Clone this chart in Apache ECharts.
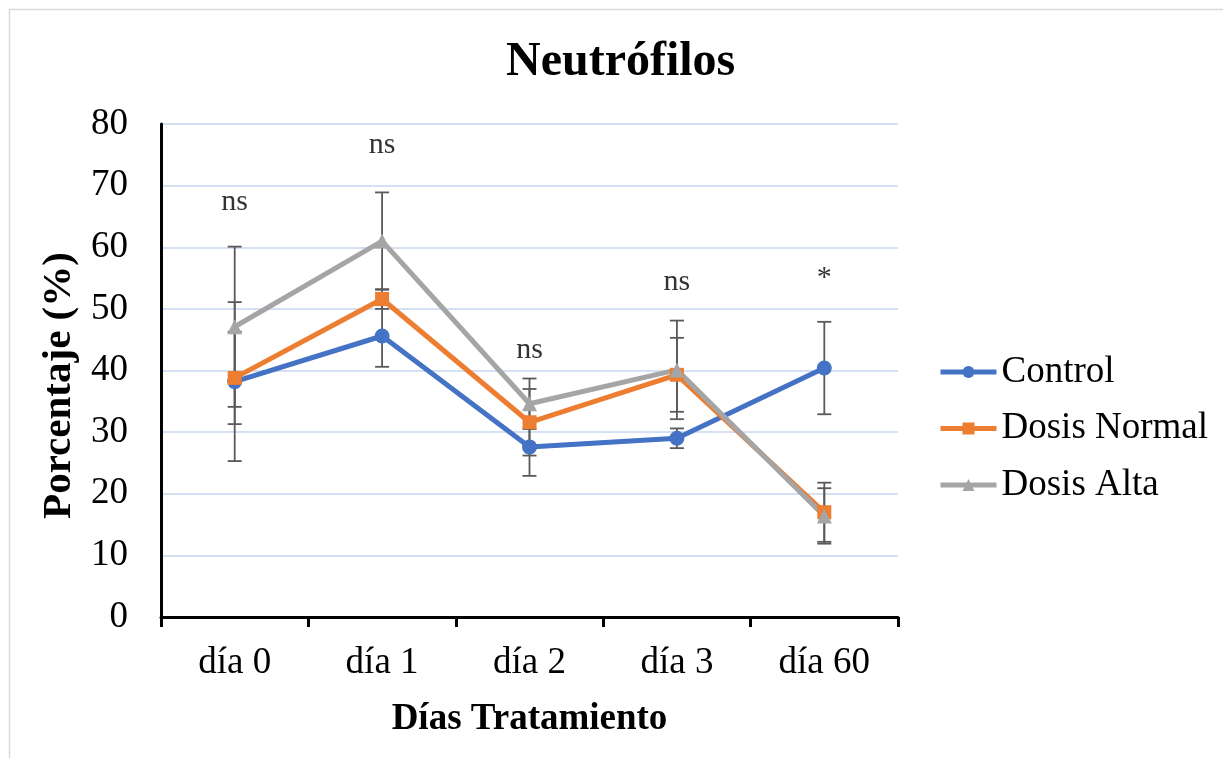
<!DOCTYPE html>
<html><head><meta charset="utf-8">
<script src="https://cdn.jsdelivr.net/npm/echarts@6/dist/echarts.min.js"></script>
<style>html,body{margin:0;padding:0;background:#fff}#c{width:1223px;height:758px}</style>
</head><body><div id="c"></div>
<script>
const categories = ['día 0', 'día 1', 'día 2', 'día 3', 'día 60'];
const controlVals = [38.2, 45.6, 27.6, 29.0, 40.4];
const normalVals = [38.8, 51.6, 31.6, 39.3, 17.0];
const altaVals = [47.1, 61.0, 34.6, 40.1, 16.4];
const controlErr = [12.9, 5.0, 4.7, 1.6, 7.5];
const normalErr = [7.5, 1.6, 5.4, 6.0, 4.8];
const altaErr = [13.0, 7.9, 4.1, 8.0, 4.5];
const sigLabels = ['ns', 'ns', 'ns', 'ns', '*'];
const sigY = [67.4, 76.6, 43.3, 54.4, 55.0];
const yTicks = [0, 10, 20, 30, 40, 50, 60, 70, 80];

const FONT = '"Liberation Serif", "Times New Roman", serif';
const colors = {Control: '#4472C4', 'Dosis Normal': '#ED7D31', 'Dosis Alta': '#A5A5A5'};

function errData(vals, errs) {
  return vals.map((v, i) => [i, v - errs[i], v + errs[i]]);
}
function errSeries(vals, errs) {
  return {
    type: 'custom', z: 1, silent: true,
    data: errData(vals, errs),
    renderItem: function (params, api) {
      const lo = api.coord([api.value(0), api.value(1)]);
      const hi = api.coord([api.value(0), api.value(2)]);
      const w = 7;
      const st = {stroke: '#595959', lineWidth: 1.8};
      return {type: 'group', children: [
        {type: 'line', shape: {x1: lo[0], y1: lo[1], x2: hi[0], y2: hi[1]}, style: st},
        {type: 'line', shape: {x1: lo[0] - w, y1: lo[1], x2: lo[0] + w, y2: lo[1]}, style: st},
        {type: 'line', shape: {x1: hi[0] - w, y1: hi[1], x2: hi[0] + w, y2: hi[1]}, style: st}
      ]};
    }
  };
}
function lineSeries(name, vals, symbol, size) {
  return {
    name: name, type: 'line', data: vals, z: 3,
    symbol: symbol, symbolSize: size, showAllSymbol: true,
    lineStyle: {color: colors[name], width: 5},
    itemStyle: {color: colors[name]},
    emphasis: {disabled: true}
  };
}

const chart = echarts.init(document.getElementById('c'), null, {renderer: 'canvas'});
chart.setOption({
  animation: false,
  backgroundColor: '#fff',
  graphic: [{type: 'rect', shape: {x: 9.5, y: 9.5, width: 1300, height: 800}, style: {fill: 'none', stroke: '#d9d9d9', lineWidth: 1.5}, z: -10}],
  title: {
    text: 'Neutrófilos', left: 501, top: 34,
    textStyle: {fontFamily: FONT, fontWeight: 'bold', fontSize: 48, color: '#000'}
  },
  legend: {
    data: ['Control', 'Dosis Normal', 'Dosis Alta'],
    orient: 'vertical', left: 933, top: 347, itemGap: 16.5,
    itemWidth: 56, itemHeight: 15,
    lineStyle: {width: 5},
    textStyle: {fontFamily: FONT, fontSize: 37, lineHeight: 40, color: '#000'}
  },
  grid: {left: 161, right: 325, top: 124, bottom: 141},
  xAxis: {
    type: 'category', data: categories, boundaryGap: true,
    name: 'Días Tratamiento', nameLocation: 'middle', nameGap: 84,
    nameTextStyle: {fontFamily: FONT, fontWeight: 'bold', fontSize: 37, color: '#000'},
    axisLine: {lineStyle: {color: '#000', width: 3}},
    axisTick: {show: true, length: 10, lineStyle: {color: '#000', width: 3}},
    axisLabel: {fontFamily: FONT, fontSize: 37, color: '#000', margin: 28},
    splitLine: {show: false}
  },
  yAxis: {
    type: 'value', min: 0, max: 80, interval: 10,
    name: 'Porcentaje (%)', nameLocation: 'middle', nameGap: 75, nameRotate: 90,
    nameTextStyle: {fontFamily: FONT, fontWeight: 'bold', fontSize: 41, color: '#000', padding: [0, 30, 0, 0]},
    axisLine: {show: true, lineStyle: {color: '#000', width: 3}},
    axisTick: {show: false},
    axisLabel: {fontFamily: FONT, fontSize: 37, color: '#000', margin: 33,
      formatter: function (v) { return yTicks.indexOf(v) >= 0 ? String(v) : ''; }},
    splitLine: {show: true, lineStyle: {color: '#c9d6f0', width: 1.5}}
  },
  series: [
    errSeries(controlVals, controlErr),
    errSeries(normalVals, normalErr),
    errSeries(altaVals, altaErr),
    lineSeries('Control', controlVals, 'circle', 15),
    lineSeries('Dosis Normal', normalVals, 'rect', 14),
    lineSeries('Dosis Alta', altaVals, 'triangle', 15),
    {
      type: 'scatter', symbolSize: 0, silent: true, z: 5,
      data: sigY.map((y, i) => [i, y]),
      label: {show: true, position: 'inside', fontFamily: FONT, fontSize: 30, color: '#000',
        formatter: function (p) { return sigLabels[p.dataIndex]; }}
    }
  ]
});
</script></body></html>
